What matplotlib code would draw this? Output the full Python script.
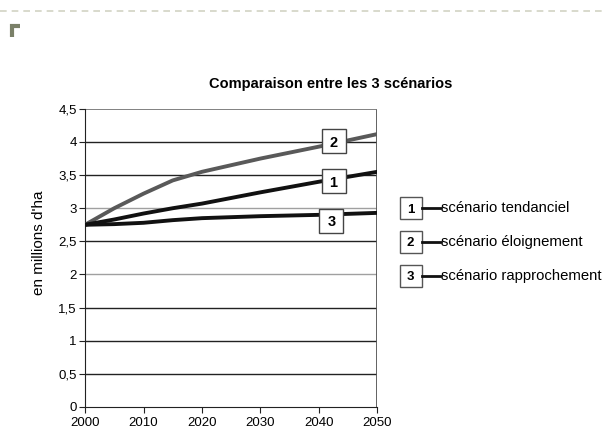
import matplotlib
matplotlib.use("Agg")
import matplotlib.pyplot as plt
from matplotlib.lines import Line2D

plt.rcParams['font.family'] = ['Liberation Sans', 'DejaVu Sans']

years = [2000, 2005, 2010, 2015, 2020, 2030, 2040, 2050]
tendanciel = [2.75, 2.83, 2.92, 3.00, 3.07, 3.24, 3.40, 3.55]
eloignement = [2.75, 3.00, 3.22, 3.42, 3.55, 3.75, 3.93, 4.12]
rapprochement = [2.75, 2.76, 2.78, 2.82, 2.85, 2.88, 2.90, 2.93]

y_ticks = [0, 0.5, 1, 1.5, 2, 2.5, 3, 3.5, 4, 4.5]
y_labels = ['0', '0,5', '1', '1,5', '2', '2,5', '3', '3,5', '4', '4,5']
x_ticks = [2000, 2010, 2020, 2030, 2040, 2050]
legend_labels = ['scénario tendanciel', 'scénario éloignement', 'scénario rapprochement']

# numbered tags sitting on the curves
tag_nums = ['2', '1', '3']
tag_x = [2042.5, 2042.5, 2042.1]
tag_y = [4.01, 3.41, 2.81]

fig = plt.figure(figsize=(6.03, 4.32), dpi=100)

# dashed rule across the top of the page and the small corner mark
fig.add_artist(Line2D([0, 1], [0.975, 0.975], transform=fig.transFigure,
                      color='#d2d3c4', lw=1.2, ls=(0, (4, 3))))
fig.add_artist(Line2D([0.0195, 0.0195, 0.033], [0.914, 0.94, 0.94], transform=fig.transFigure,
                      color='#7a8068', lw=3, solid_capstyle='butt', solid_joinstyle='miter'))

ax = fig.add_axes([0.141, 0.058, 0.485, 0.69])
ax.set_xlim(2000, 2050)
ax.set_ylim(0, 4.5)

for v in y_ticks[1:-1]:
    c = '#a0a0a0' if v in (2, 3) else '#222222'
    ax.axhline(v, color=c, lw=1.0, zorder=1)
ax.axvline(2050, color='#555555', lw=1.3, zorder=1)

ax.plot(years, eloignement, color='#595959', lw=2.8, zorder=3)
ax.plot(years, tendanciel, color='#111111', lw=2.8, zorder=3)
ax.plot(years, rapprochement, color='#111111', lw=2.8, zorder=3)

for n, tx, ty in zip(tag_nums, tag_x, tag_y):
    ax.plot(tx, ty, marker='s', ms=17, mfc='white', mec='#444444', mew=1, zorder=4)
    ax.text(tx, ty, n, ha='center', va='center_baseline', fontsize=10.5,
            fontweight='bold', zorder=5)

ax.set_yticks(y_ticks)
ax.set_yticklabels(y_labels)
ax.set_xticks(x_ticks)
ax.tick_params(labelsize=9.5, length=4, color='#222222', pad=2)
ax.tick_params(axis='x', pad=3)
for side in ['top', 'right']:
    ax.spines[side].set_visible(False)
ax.spines['left'].set_color('#222222')
ax.spines['bottom'].set_color('#222222')
ax.add_artist(Line2D([0, 1], [1, 1], transform=ax.transAxes, color='#777777', lw=1.3))

ax.set_ylabel("en millions d'ha", fontsize=11)
ax.yaxis.set_label_coords(-0.135, 0.55)
fig.text(0.548, 0.805, 'Comparaison entre les 3 scénarios', ha='center', va='center',
         fontsize=10.5, fontweight='bold')

# legend: numbered boxes joined to their labels
for i, (num, lab) in enumerate(zip(['1', '2', '3'], legend_labels)):
    yy = 0.518 - i * 0.078
    fig.add_artist(Line2D([0.681], [yy], transform=fig.transFigure, marker='s', ms=16,
                          mfc='white', mec='#555555', mew=1))
    fig.text(0.681, yy, num, ha='center', va='center_baseline', fontsize=9.5, fontweight='bold')
    fig.add_artist(Line2D([0.7, 0.731], [yy, yy], transform=fig.transFigure, color='#111111', lw=2))
    fig.text(0.731, yy, lab, ha='left', va='center', fontsize=10.7)

fig.savefig('out.png', dpi=100)
